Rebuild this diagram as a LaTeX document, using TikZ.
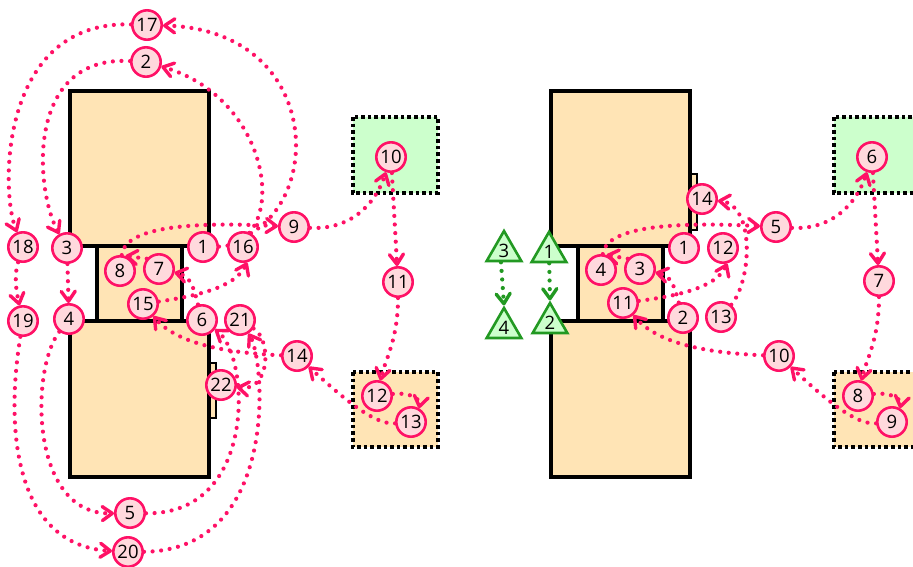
\documentclass[tikz,border=0pt]{standalone}
\usepackage{fontspec}
\setmainfont{Open Sans}
\usetikzlibrary{arrows.meta,shapes.geometric}
\definecolor{pinkline}{HTML}{FF1166}
\definecolor{pinkfill}{HTML}{FFD9DD}
\definecolor{sand}{HTML}{FFE4B5}
\definecolor{mint}{HTML}{CCFFCC}
\definecolor{leaf}{HTML}{229922}
\newcommand{\numfont}{\fontsize{18.5}{18.5}\selectfont}
\pgfdeclarelayer{base}
\pgfdeclarelayer{links}
\pgfsetlayers{base,links,main}
\begin{document}
\begin{tikzpicture}[x=1pt,y=-1pt,
  block/.style={fill=sand,draw=black,line width=3.2pt},
  tab/.style={fill=sand,draw=black,line width=2.5pt},
  zone/.style={draw=black,line width=4pt,dash pattern=on 3.6pt off 3pt},
  stepnode/.style={circle,draw=pinkline,fill=pinkfill,line width=2.6pt,
    minimum size=29.4pt,inner sep=0pt,font=\numfont},
  marker/.style={regular polygon,regular polygon sides=3,draw=leaf,fill=mint,
    line width=2.6pt,minimum size=40pt,inner sep=0pt,font=\numfont},
  flow/.style={draw=pinkline,line width=4.2pt,line cap=round,
    dash pattern=on 0pt off 8.6pt,
    -{Straight Barb[length=10pt,width=14pt,line width=3.4pt,round]}},
  gflow/.style={flow,draw=leaf}]
\useasboundingbox (0,0) rectangle (913,566);
\clip (0,0) rectangle (913,566);

% ---------------- left layout ----------------
\begin{pgfonlayer}{base}
\fill[mint] (353,117) rectangle (438,193);
\draw[zone] (353,117) rectangle (438,193);
\fill[sand] (353,372) rectangle (438,447);
\draw[zone] (353,372) rectangle (438,447);
\draw[tab] (205,363) rectangle (216,418);
\draw[block] (70,91) rectangle (209,246);
\draw[block] (70,321) rectangle (209,477);
\draw[block] (97,246) rectangle (182,321);
\end{pgfonlayer}

\node[stepnode] (L1) at (203,247) {1};
\node[stepnode] (L2) at (146,62) {2};
\node[stepnode] (L3) at (67,248) {3};
\node[stepnode] (L4) at (69,319) {4};
\node[stepnode] (L5) at (130,513) {5};
\node[stepnode] (L6) at (202,320) {6};
\node[stepnode] (L7) at (159,269) {7};
\node[stepnode] (L8) at (120,271) {8};
\node[stepnode] (L9) at (294,227) {9};
\node[stepnode] (L10) at (391,157) {10};
\node[stepnode] (L11) at (398,282) {11};
\node[stepnode] (L12) at (377,396) {12};
\node[stepnode] (L13) at (411,422) {13};
\node[stepnode] (L14) at (297,356) {14};
\node[stepnode] (L15) at (143,304) {15};
\node[stepnode] (L16) at (243,247) {16};
\node[stepnode] (L17) at (147,25) {17};
\node[stepnode] (L18) at (23,247) {18};
\node[stepnode] (L19) at (23,321) {19};
\node[stepnode] (L20) at (128,552) {20};
\node[stepnode] (L21) at (240,320) {21};
\node[stepnode] (L22) at (221,385) {22};

\begin{pgfonlayer}{links}
\draw[flow] (L1) .. controls (290,245) and (275,100) .. (L2);
\draw[flow] (L2) .. controls (25,55) and (35,190) .. (L3);
\draw[flow] (L3) -- (L4);
\draw[flow] (L4) .. controls (30,370) and (30,515) .. (L5);
\draw[flow] (L5) .. controls (258,515) and (250,355) .. (L6);
\draw[flow] (L6) .. controls (193,285) and (190,276) .. (L7);
\draw[flow] (L7.140) -- (L8.70);
\draw[flow] (L8) .. controls (125,225) and (200,222) .. (L9);
\draw[flow] (L9) .. controls (350,230) and (375,205) .. (L10);
\draw[flow] (L10) -- (L11);
\draw[flow] (L11) .. controls (398,340) and (385,360) .. (L12);
\draw[flow] (L12) .. controls (408,392) and (421,398) .. (L13.60);
\draw[flow] (L13) .. controls (375,425) and (345,400) .. (L14);
\draw[flow] (L14) .. controls (230,353) and (178,345) .. (L15);
\draw[flow] (L15) .. controls (195,296) and (235,288) .. (L16.-75);
\draw[flow] (L16.60) .. controls (325,190) and (315,30) .. (L17);
\draw[flow] (L17) .. controls (0,20) and (0,190) .. (L18);
\draw[flow] (L18) .. controls (14,275) and (16,290) .. (L19);
\draw[flow] (L19) .. controls (5,430) and (15,545) .. (L20);
\draw[flow] (L20) .. controls (280,550) and (265,360) .. (L21);
\draw[flow] (L21) .. controls (272,340) and (270,392) .. (L22);
\end{pgfonlayer}

% ---------------- right layout ----------------
\begin{scope}[xshift=481pt]
\begin{pgfonlayer}{base}
\fill[mint] (353,117) rectangle (438,193);
\draw[zone] (353,117) rectangle (438,193);
\fill[sand] (353,372) rectangle (438,447);
\draw[zone] (353,372) rectangle (438,447);
\draw[tab] (205,174) rectangle (216,230);
\draw[block] (70,91) rectangle (209,246);
\draw[block] (70,321) rectangle (209,477);
\draw[block] (97,246) rectangle (182,321);
\end{pgfonlayer}

\node[marker] (G1) at (68,252) {1};
\node[marker] (G2) at (69,323) {2};
\node[marker] (G3) at (23,251) {3};
\node[marker] (G4) at (23,328) {4};

\node[stepnode] (R1) at (203,248) {1};
\node[stepnode] (R2) at (202,318) {2};
\node[stepnode] (R3) at (159,269) {3};
\node[stepnode] (R4) at (120,270) {4};
\node[stepnode] (R5) at (295,227) {5};
\node[stepnode] (R6) at (391,157) {6};
\node[stepnode] (R7) at (398,281) {7};
\node[stepnode] (R8) at (377,396) {8};
\node[stepnode] (R9) at (411,422) {9};
\node[stepnode] (R10) at (298,356) {10};
\node[stepnode] (R11) at (142,303) {11};
\node[stepnode] (R12) at (242,248) {12};
\node[stepnode] (R13) at (240,317) {13};
\node[stepnode] (R14) at (221,199) {14};

\begin{pgfonlayer}{links}
\draw[gflow] (G1) -- (G2.corner 1);
\draw[gflow] (G3.-105) -- (G4.corner 1);
\draw[flow] (R2) .. controls (193,285) and (190,276) .. (R3);
\draw[flow] (R3.140) -- (R4.70);
\draw[flow] (R4) .. controls (125,225) and (200,222) .. (R5);
\draw[flow] (R5) .. controls (350,230) and (375,205) .. (R6);
\draw[flow] (R6) -- (R7);
\draw[flow] (R7) .. controls (398,340) and (385,360) .. (R8);
\draw[flow] (R8) .. controls (408,392) and (421,398) .. (R9.60);
\draw[flow] (R9) .. controls (375,425) and (345,400) .. (R10);
\draw[flow] (R10) .. controls (230,353) and (178,345) .. (R11);
\draw[flow] (R11) .. controls (195,296) and (235,288) .. (R12.-75);
\draw[flow] (R13) .. controls (271,280) and (274,205) .. (R14);
\end{pgfonlayer}
\end{scope}
\end{tikzpicture}
\end{document}
